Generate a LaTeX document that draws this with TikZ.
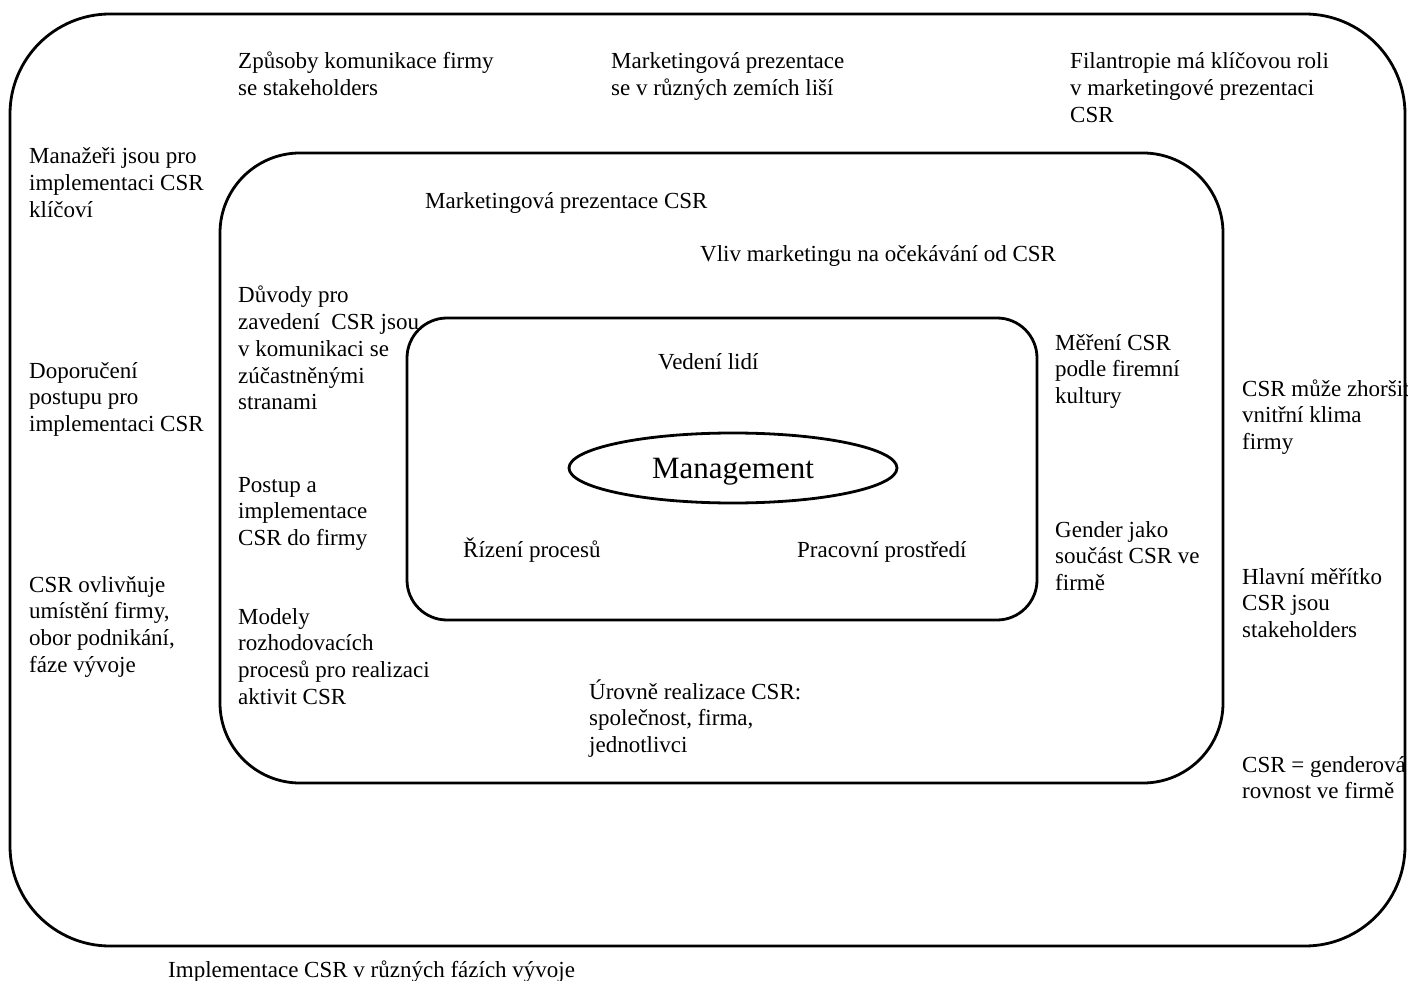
\documentclass[tikz,border=0pt]{standalone}
\usepackage{fontspec}
\setmainfont{Liberation Serif}
\usetikzlibrary{shapes.geometric}
\begin{document}
\begin{tikzpicture}[x=1pt,y=-1pt,
  frame/.style={draw=black,line width=2.8pt},
  % labels are anchored at the baseline of their last line
  lbl/.style={anchor=base west,inner sep=0pt,align=left,
    font=\fontsize{23}{26.7}\selectfont},
  core/.style={frame,ellipse,minimum width=328pt,minimum height=70pt,
    inner sep=0pt,text depth=0pt,font=\fontsize{31}{36}\selectfont}]
\useasboundingbox (0,0) rectangle (1408,981);
\fill[white] (0,0) rectangle (1408,981);

% nested frames
\draw[frame,rounded corners=100pt] (10,14) rectangle (1405,946);
\draw[frame,rounded corners=80pt] (220,153) rectangle (1223,783);
\draw[frame,rounded corners=40pt] (407,318) rectangle (1037,620);
\node[core] (mgmt) at (733,468) {Management};

% outer ring
\node[lbl] (zpusoby) at (238,95.7) {Způsoby komunikace firmy\\se stakeholders};
\node[lbl] (zeme) at (611,95.7) {Marketingová prezentace\\se v různých zemích liší};
\node[lbl] (filantropie) at (1070,122.4) {Filantropie má klíčovou roli\\v marketingové prezentaci\\CSR};
\node[lbl] (manazeri) at (29,217.4) {Manažeři jsou pro\\implementaci CSR\\klíčoví};
\node[lbl] (doporuceni) at (29,431.4) {Doporučení\\postupu pro\\implementaci CSR};
\node[lbl] (ovlivnuje) at (29,672.1) {CSR ovlivňuje\\umístění firmy,\\obor podnikání,\\fáze vývoje};
\node[lbl] (klima) at (1242,449.4) {CSR může zhoršit\\vnitřní klima\\firmy};
\node[lbl] (meritko) at (1242,637.4) {Hlavní měřítko\\CSR jsou\\stakeholders};
\node[lbl] (rovnost) at (1242,798.7) {CSR = genderová\\rovnost ve firmě};
\node[lbl] (faze) at (168,977) {Implementace CSR v různých fázích vývoje};

% middle ring
\node[lbl] (prezentace) at (425,209) {Marketingová prezentace CSR};
\node[lbl] (vliv) at (700,262) {Vliv marketingu na očekávání od CSR};
\node[lbl] (duvody) at (238,409.8) {Důvody pro\\zavedení\ \ CSR jsou\\v komunikaci se\\zúčastněnými\\stranami};
\node[lbl] (postup) at (238,545.4) {Postup a\\implementace\\CSR do firmy};
\node[lbl] (modely) at (238,704.1) {Modely\\rozhodovacích\\procesů pro realizaci\\aktivit CSR};
\node[lbl] (mereni) at (1055,403.4) {Měření CSR\\podle firemní\\kultury};
\node[lbl] (gender) at (1055,590.4) {Gender jako\\součást CSR ve\\firmě};
\node[lbl] (urovne) at (589,752.4) {Úrovně realizace CSR:\\společnost, firma,\\jednotlivci};

% inner ring
\node[lbl] (vedeni) at (658,370) {Vedení lidí};
\node[lbl] (rizeni) at (463,557) {Řízení procesů};
\node[lbl] (prostredi) at (797,557) {Pracovní prostředí};
\end{tikzpicture}
\end{document}
